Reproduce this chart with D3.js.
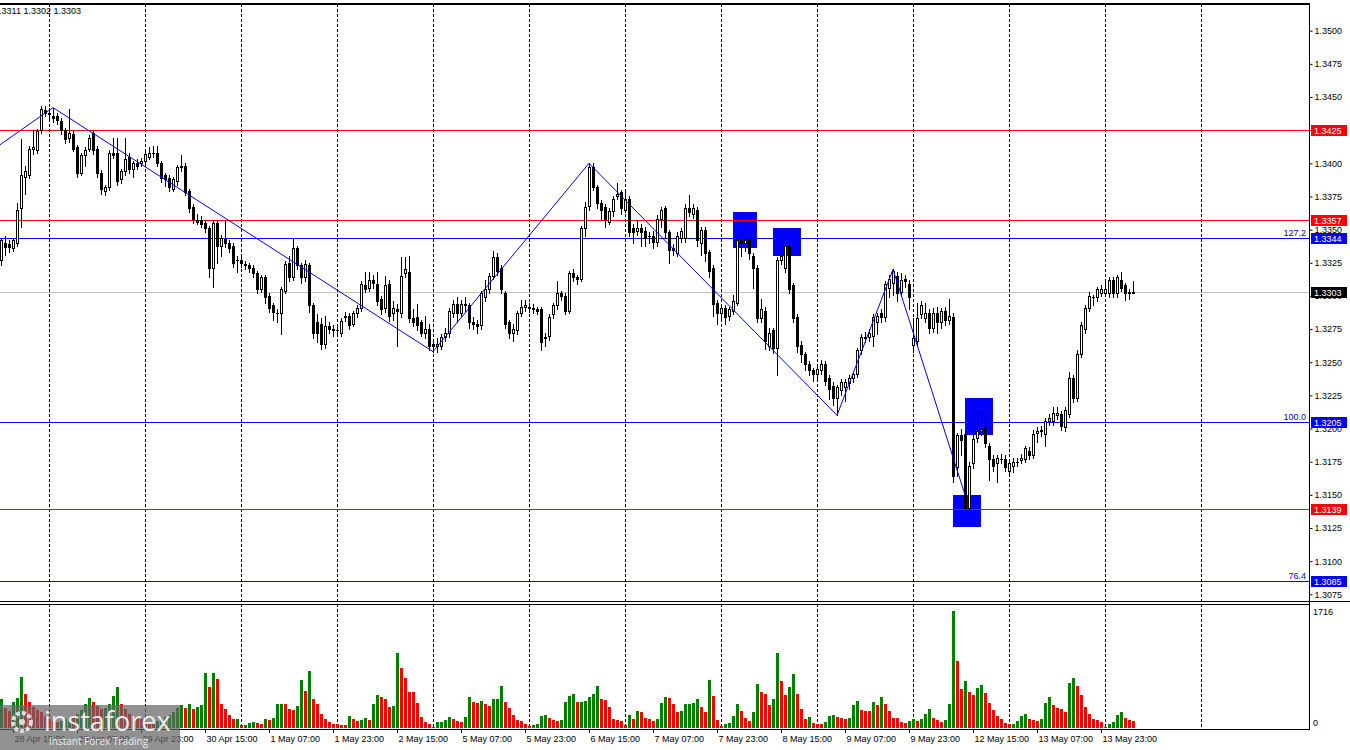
<!DOCTYPE html>
<html>
<head>
<meta charset="utf-8">
<script src="https://cdn.jsdelivr.net/npm/d3@7"></script>
<style>
  body { margin: 0; background: #fff; }
  svg { display: block; font-family: 'Liberation Sans', Arial, sans-serif; }
</style>
</head>
<body>
<svg id="chart" width="1350" height="750"></svg>
<script>
// H1 candles, oldest first
const opens = [
  1.3327,1.3340,1.3339,1.3336,1.3340,1.3366,1.3390,1.3391,1.3411,1.3410,1.3425,1.3440,
  1.3438,1.3436,1.3436,1.3432,1.3425,1.3419,1.3422,1.3412,1.3393,1.3406,1.3411,1.3423,
  1.3411,1.3393,1.3379,1.3382,1.3408,1.3408,1.3388,1.3394,1.3405,1.3396,1.3400,1.3400,
  1.3402,1.3405,1.3408,1.3408,1.3400,1.3391,1.3389,1.3381,1.3387,1.3397,1.3398,1.3379,
  1.3367,1.3357,1.3357,1.3355,1.3351,1.3321,1.3355,1.3338,1.3343,1.3340,1.3338,1.3327,
  1.3327,1.3324,1.3323,1.3321,1.3317,1.3305,1.3314,1.3300,1.3293,1.3287,1.3287,1.3304,
  1.3325,1.3314,1.3336,1.3323,1.3314,1.3323,1.3293,1.3280,1.3279,1.3264,1.3277,1.3275,
  1.3274,1.3272,1.3284,1.3285,1.3279,1.3287,1.3291,1.3308,1.3306,1.3312,1.3309,1.3298,
  1.3291,1.3309,1.3287,1.3290,1.3287,1.3317,1.3318,1.3283,1.3284,1.3280,1.3272,1.3275,
  1.3264,1.3262,1.3262,1.3269,1.3272,1.3287,1.3294,1.3287,1.3294,1.3293,1.3280,1.3279,
  1.3278,1.3299,1.3305,1.3315,1.3329,1.3321,1.3302,1.3280,1.3272,1.3274,1.3287,1.3292,
  1.3292,1.3291,1.3290,1.3290,1.3268,1.3270,1.3286,1.3293,1.3302,1.3300,1.3289,1.3317,
  1.3314,1.3313,1.3351,1.3368,1.3397,1.3382,1.3370,1.3367,1.3356,1.3364,1.3375,1.3378,
  1.3365,1.3373,1.3351,1.3349,1.3351,1.3349,1.3345,1.3345,1.3341,1.3358,1.3366,1.3348,
  1.3336,1.3332,1.3344,1.3344,1.3366,1.3362,1.3365,1.3340,1.3350,1.3333,1.3321,1.3295,
  1.3287,1.3291,1.3285,1.3289,1.3295,1.3342,1.3340,1.3343,1.3330,1.3321,1.3283,1.3289,
  1.3262,1.3274,1.3261,1.3327,1.3321,1.3338,1.3308,1.3284,1.3263,1.3256,1.3249,1.3244,
  1.3241,1.3244,1.3249,1.3238,1.3232,1.3223,1.3229,1.3231,1.3234,1.3238,1.3241,1.3259,
  1.3268,1.3269,1.3270,1.3280,1.3287,1.3284,1.3306,1.3310,1.3315,1.3303,1.3313,1.3309,
  1.3263,1.3266,1.3286,1.3283,1.3287,1.3276,1.3287,1.3280,1.3289,1.3282,1.3284,1.3171,
  1.3195,1.3196,1.3140,1.3174,1.3193,1.3198,1.3201,1.3187,1.3177,1.3174,1.3177,1.3177,
  1.3168,1.3172,1.3175,1.3176,1.3177,1.3183,1.3180,1.3197,1.3198,1.3196,1.3206,1.3206,
  1.3210,1.3211,1.3201,1.3211,1.3238,1.3223,1.3256,1.3275,1.3291,1.3299,1.3299,1.3302,
  1.3302,1.3302,1.3312,1.3302,1.3312,1.3308,1.3303,1.3302
];
const highs = [
  1.3344,1.3345,1.3342,1.3343,1.3370,1.3418,1.3398,1.3413,1.3425,1.3426,1.3443,1.3443,
  1.3442,1.3442,1.3438,1.3434,1.3427,1.3441,1.3424,1.3414,1.3408,1.3412,1.3421,1.3425,
  1.3413,1.3395,1.3384,1.3410,1.3419,1.3419,1.3396,1.3419,1.3408,1.3402,1.3403,1.3404,
  1.3409,1.3412,1.3413,1.3413,1.3402,1.3393,1.3391,1.3390,1.3399,1.3406,1.3400,1.3381,
  1.3369,1.3362,1.3360,1.3357,1.3353,1.3357,1.3357,1.3346,1.3357,1.3342,1.3340,1.3330,
  1.3329,1.3326,1.3325,1.3323,1.3319,1.3316,1.3316,1.3302,1.3295,1.3290,1.3307,1.3326,
  1.3330,1.3344,1.3338,1.3325,1.3327,1.3325,1.3295,1.3286,1.3283,1.3285,1.3280,1.3278,
  1.3277,1.3283,1.3288,1.3287,1.3289,1.3293,1.3311,1.3318,1.3318,1.3316,1.3318,1.3300,
  1.3315,1.3312,1.3296,1.3294,1.3329,1.3329,1.3330,1.3290,1.3294,1.3282,1.3285,1.3279,
  1.3266,1.3268,1.3271,1.3276,1.3291,1.3297,1.3299,1.3297,1.3299,1.3295,1.3284,1.3282,
  1.3304,1.3312,1.3317,1.3334,1.3332,1.3323,1.3304,1.3282,1.3279,1.3289,1.3297,1.3297,
  1.3295,1.3294,1.3292,1.3292,1.3272,1.3286,1.3295,1.3311,1.3304,1.3302,1.3319,1.3320,
  1.3316,1.3353,1.3371,1.3400,1.3400,1.3384,1.3372,1.3369,1.3366,1.3375,1.3385,1.3380,
  1.3379,1.3375,1.3354,1.3357,1.3354,1.3352,1.3348,1.3349,1.3361,1.3367,1.3368,1.3350,
  1.3339,1.3348,1.3351,1.3369,1.3376,1.3369,1.3367,1.3352,1.3352,1.3335,1.3323,1.3297,
  1.3294,1.3293,1.3292,1.3301,1.3347,1.3350,1.3354,1.3345,1.3332,1.3323,1.3298,1.3292,
  1.3276,1.3276,1.3329,1.3336,1.3343,1.3342,1.3310,1.3286,1.3266,1.3258,1.3251,1.3246,
  1.3248,1.3252,1.3251,1.3240,1.3235,1.3233,1.3237,1.3237,1.3240,1.3243,1.3261,1.3271,
  1.3273,1.3275,1.3286,1.3287,1.3290,1.3311,1.3316,1.3320,1.3318,1.3317,1.3316,1.3312,
  1.3283,1.3295,1.3296,1.3295,1.3290,1.3291,1.3292,1.3291,1.3292,1.3298,1.3287,1.3197,
  1.3200,1.3198,1.3175,1.3195,1.3213,1.3213,1.3213,1.3189,1.3180,1.3180,1.3181,1.3180,
  1.3176,1.3178,1.3178,1.3181,1.3187,1.3186,1.3199,1.3201,1.3202,1.3208,1.3211,1.3216,
  1.3216,1.3213,1.3216,1.3243,1.3240,1.3259,1.3280,1.3293,1.3303,1.3301,1.3307,1.3308,
  1.3313,1.3314,1.3314,1.3316,1.3318,1.3310,1.3305,1.3311
];
const lows = [
  1.3323,1.3331,1.3333,1.3334,1.3338,1.3352,1.3377,1.3389,1.3407,1.3408,1.3423,1.3436,
  1.3432,1.3431,1.3430,1.3422,1.3415,1.3416,1.3409,1.3390,1.3391,1.3398,1.3409,1.3407,
  1.3390,1.3377,1.3376,1.3380,1.3404,1.3384,1.3385,1.3391,1.3393,1.3390,1.3396,1.3398,
  1.3400,1.3403,1.3405,1.3398,1.3386,1.3383,1.3379,1.3379,1.3384,1.3394,1.3376,1.3363,
  1.3355,1.3354,1.3352,1.3348,1.3314,1.3307,1.3325,1.3330,1.3337,1.3333,1.3322,1.3318,
  1.3322,1.3320,1.3318,1.3314,1.3302,1.3303,1.3295,1.3288,1.3282,1.3280,1.3271,1.3302,
  1.3311,1.3312,1.3320,1.3310,1.3311,1.3288,1.3268,1.3265,1.3260,1.3261,1.3272,1.3270,
  1.3271,1.3270,1.3281,1.3275,1.3277,1.3284,1.3289,1.3303,1.3304,1.3306,1.3293,1.3286,
  1.3288,1.3281,1.3282,1.3262,1.3284,1.3314,1.3280,1.3277,1.3274,1.3270,1.3268,1.3259,
  1.3258,1.3258,1.3260,1.3266,1.3269,1.3284,1.3280,1.3285,1.3289,1.3276,1.3275,1.3272,
  1.3275,1.3296,1.3302,1.3313,1.3316,1.3302,1.3276,1.3268,1.3266,1.3271,1.3285,1.3289,
  1.3288,1.3287,1.3286,1.3259,1.3262,1.3267,1.3283,1.3290,1.3297,1.3286,1.3287,1.3311,
  1.3309,1.3311,1.3345,1.3365,1.3380,1.3366,1.3357,1.3352,1.3354,1.3360,1.3373,1.3362,
  1.3363,1.3345,1.3340,1.3346,1.3338,1.3338,1.3340,1.3336,1.3338,1.3352,1.3344,1.3325,
  1.3331,1.3330,1.3341,1.3341,1.3360,1.3359,1.3338,1.3331,1.3326,1.3314,1.3285,1.3279,
  1.3283,1.3279,1.3282,1.3286,1.3293,1.3330,1.3334,1.3328,1.3306,1.3280,1.3280,1.3260,
  1.3259,1.3257,1.3240,1.3324,1.3318,1.3302,1.3280,1.3258,1.3250,1.3244,1.3240,1.3236,
  1.3238,1.3241,1.3233,1.3222,1.3218,1.3210,1.3225,1.3221,1.3230,1.3235,1.3239,1.3256,
  1.3265,1.3266,1.3262,1.3271,1.3280,1.3281,1.3299,1.3301,1.3296,1.3300,1.3307,1.3290,
  1.3258,1.3263,1.3283,1.3280,1.3272,1.3273,1.3272,1.3276,1.3278,1.3279,1.3160,1.3164,
  1.3180,1.3139,1.3139,1.3170,1.3190,1.3195,1.3186,1.3161,1.3168,1.3160,1.3174,1.3168,
  1.3166,1.3167,1.3172,1.3174,1.3175,1.3177,1.3178,1.3190,1.3194,1.3187,1.3203,1.3203,
  1.3207,1.3199,1.3198,1.3209,1.3220,1.3221,1.3254,1.3272,1.3289,1.3293,1.3296,1.3300,
  1.3300,1.3299,1.3299,1.3299,1.3304,1.3297,1.3298,1.3302
];
const closes = [
  1.3342,1.3337,1.3337,1.3342,1.3365,1.3391,1.3394,1.3411,1.3412,1.3424,1.3441,1.3438,
  1.3437,1.3434,1.3433,1.3425,1.3418,1.3423,1.3411,1.3393,1.3406,1.3410,1.3419,1.3410,
  1.3393,1.3381,1.3382,1.3408,1.3406,1.3387,1.3394,1.3403,1.3396,1.3400,1.3398,1.3402,
  1.3407,1.3408,1.3408,1.3400,1.3389,1.3388,1.3382,1.3388,1.3397,1.3398,1.3378,1.3366,
  1.3358,1.3356,1.3354,1.3351,1.3321,1.3355,1.3338,1.3344,1.3340,1.3336,1.3325,1.3327,
  1.3325,1.3323,1.3321,1.3317,1.3305,1.3314,1.3299,1.3291,1.3288,1.3287,1.3305,1.3324,
  1.3314,1.3336,1.3323,1.3314,1.3324,1.3293,1.3272,1.3272,1.3264,1.3277,1.3275,1.3274,
  1.3274,1.3281,1.3285,1.3278,1.3287,1.3291,1.3309,1.3305,1.3312,1.3310,1.3296,1.3290,
  1.3308,1.3285,1.3291,1.3289,1.3315,1.3320,1.3283,1.3280,1.3278,1.3272,1.3275,1.3262,
  1.3262,1.3264,1.3269,1.3272,1.3289,1.3294,1.3287,1.3294,1.3293,1.3280,1.3279,1.3277,
  1.3302,1.3305,1.3315,1.3329,1.3319,1.3305,1.3279,1.3272,1.3275,1.3287,1.3292,1.3293,
  1.3291,1.3290,1.3289,1.3265,1.3269,1.3284,1.3293,1.3302,1.3300,1.3289,1.3317,1.3314,
  1.3313,1.3351,1.3367,1.3397,1.3382,1.3370,1.3365,1.3358,1.3364,1.3373,1.3377,1.3366,
  1.3373,1.3348,1.3348,1.3351,1.3348,1.3344,1.3345,1.3341,1.3358,1.3365,1.3348,1.3335,
  1.3335,1.3345,1.3349,1.3366,1.3363,1.3366,1.3342,1.3350,1.3332,1.3319,1.3294,1.3287,
  1.3291,1.3284,1.3290,1.3296,1.3342,1.3340,1.3342,1.3332,1.3321,1.3283,1.3290,1.3266,
  1.3272,1.3261,1.3327,1.3330,1.3338,1.3305,1.3283,1.3262,1.3256,1.3249,1.3244,1.3241,
  1.3245,1.3249,1.3236,1.3230,1.3223,1.3231,1.3235,1.3235,1.3238,1.3241,1.3259,1.3269,
  1.3269,1.3272,1.3284,1.3285,1.3284,1.3309,1.3313,1.3319,1.3302,1.3312,1.3311,1.3299,
  1.3268,1.3283,1.3293,1.3287,1.3276,1.3287,1.3280,1.3289,1.3282,1.3285,1.3164,1.3195,
  1.3191,1.3140,1.3172,1.3192,1.3198,1.3200,1.3189,1.3177,1.3172,1.3178,1.3177,1.3171,
  1.3174,1.3175,1.3175,1.3178,1.3185,1.3180,1.3196,1.3198,1.3199,1.3206,1.3208,1.3212,
  1.3212,1.3202,1.3214,1.3238,1.3223,1.3256,1.3278,1.3291,1.3300,1.3299,1.3305,1.3305,
  1.3305,1.3312,1.3302,1.3314,1.3306,1.3302,1.3302,1.3303
];
// tick volumes
const volumes = [
  430,300,250,380,440,750,495,380,310,260,230,180,
  130,110,90,100,130,150,140,200,260,350,440,380,
  330,280,300,350,470,600,350,285,210,180,150,130,
  110,90,80,100,130,160,190,230,300,333,300,357,
  284,308,333,807,601,807,714,347,279,186,127,135,
  39,45,73,83,80,54,132,112,147,347,350,345,
  284,259,318,699,543,831,430,347,210,127,88,64,
  54,50,48,171,137,103,112,152,112,347,479,455,
  420,308,318,1100,875,729,528,525,367,161,88,64,
  15,88,90,112,161,127,98,83,161,455,381,367,
  396,352,323,421,425,611,381,293,186,112,110,54,
  29,39,54,171,186,147,112,103,112,381,465,494,
  381,385,396,455,494,611,421,406,308,132,112,108,
  39,186,132,245,230,152,127,103,132,367,450,435,
  347,235,249,347,350,367,421,308,235,699,465,112,
  29,54,73,171,357,245,147,103,230,641,528,494,
  333,421,1100,685,479,597,787,494,279,127,156,73,
  64,54,83,171,186,166,152,132,142,333,396,259,
  255,245,377,333,450,347,245,152,140,83,80,98,
  127,98,127,210,274,142,112,83,112,347,1716,978,
  567,685,523,489,582,626,509,362,259,171,127,68,
  54,60,98,171,200,132,112,98,127,362,450,333,
  289,274,230,655,729,611,479,303,200,132,112,83,
  15,54,83,186,230,142,112,110
];

const priceTicks = [1.3075,1.3100,1.3125,1.3150,1.3175,1.3200,1.3225,1.3250,1.3275,
  1.3300,1.3325,1.3350,1.3375,1.3400,1.3425,1.3450,1.3475,1.3500];
const timeLabelIdx = [3,19,35,51,67,83,99,115,131,147,163,179,195,211,227,243,259,275];
const timeLabels = ["28 Apr 15:00","29 Apr 07:00","29 Apr 23:00","30 Apr 15:00","1 May 07:00",
  "1 May 23:00","2 May 15:00","5 May 07:00","5 May 23:00","6 May 15:00","7 May 07:00",
  "7 May 23:00","8 May 15:00","9 May 07:00","9 May 23:00","12 May 15:00","13 May 07:00","13 May 23:00"];

const redLevels = [1.3425, 1.3357, 1.3139];
const fiboLevels = [1.3344, 1.3205, 1.3085];
const fiboNames = ["127.2", "100.0", "76.4"];
const lastPrice = 1.3303;

// zigzag vertices: candle index, price
const zigIdx = [-0.25, 13, 108, 147, 209, 223, 241];
const zigPrice = [1.3414, 1.3442, 1.3258, 1.3400, 1.3210, 1.3320, 1.3150];

// blue boxes: candle index span, price span
const boxFrom = [183, 193, 241, 238];
const boxTo = [189, 200, 248, 245];
const boxTop = [1.3363, 1.3351, 1.3223, 1.3150];
const boxBottom = [1.3336, 1.3330, 1.3195, 1.3126];

const n = closes.length;
const axisX = 1309;

const svg = d3.select("#chart");
svg.append("rect").attr("width", 1350).attr("height", 750).attr("fill", "#fff");

const x = d3.scaleLinear().domain([0, n - 1]).range([1, 1133]);
const y = d3.scaleLinear().domain([1.3075, 1.35]).range([594.3, 30.7]);
const yv = d3.scaleLinear().domain([0, 1716]).range([728, 611]);
const py = v => Math.round(y(v));

// blue boxes behind everything
svg.append("g").selectAll("rect")
  .data(boxFrom.map((d, i) => i))
  .enter().append("rect")
  .attr("x", i => x(boxFrom[i]))
  .attr("y", i => py(boxTop[i]))
  .attr("width", i => x(boxTo[i]) - x(boxFrom[i]))
  .attr("height", i => py(boxBottom[i]) - py(boxTop[i]))
  .attr("fill", "#0000ff");

// vertical dashed grid
svg.append("g").selectAll("line")
  .data(d3.range(12, 301, 24))
  .enter().append("line")
  .attr("x1", d => x(d) + 0.5).attr("x2", d => x(d) + 0.5)
  .attr("y1", 4).attr("y2", 729)
  .attr("stroke", "#000").attr("stroke-dasharray", "3,2");

// horizontal levels
const lv = svg.append("g").attr("shape-rendering", "crispEdges");
lv.append("line")
  .attr("x1", 0).attr("x2", axisX)
  .attr("y1", py(lastPrice) + 0.5).attr("y2", py(lastPrice) + 0.5)
  .attr("stroke", "#c0c0c0");
redLevels.forEach(v => {
  lv.append("line").attr("x1", 0).attr("x2", axisX)
    .attr("y1", py(v) + 0.5).attr("y2", py(v) + 0.5)
    .attr("stroke", "#ff0000").attr("stroke-width", 1.3);
});
fiboLevels.forEach((v, i) => {
  lv.append("line").attr("x1", 0).attr("x2", axisX)
    .attr("y1", py(v) + 0.5).attr("y2", py(v) + 0.5)
    .attr("stroke", "#0000ff");
  svg.append("text").attr("x", 1306).attr("y", py(v) - 2)
    .attr("text-anchor", "end").attr("font-size", 9).attr("fill", "#0000ff")
    .text(fiboNames[i]);
});

// candles
const cg = svg.append("g").attr("shape-rendering", "crispEdges");
d3.range(n).forEach(i => {
  const cx = Math.round(x(i));
  const o = opens[i], c = closes[i];
  const hi = Math.max(highs[i], o, c), lo = Math.min(lows[i], o, c);
  cg.append("rect").attr("x", cx).attr("width", 1)
    .attr("y", py(hi)).attr("height", py(lo) - py(hi) + 1).attr("fill", "#000");
  const top = py(Math.max(o, c)), bot = py(Math.min(o, c));
  if (bot - top < 1) {
    cg.append("rect").attr("x", cx - 1).attr("width", 3).attr("y", top).attr("height", 1).attr("fill", "#000");
  } else if (c < o) {
    cg.append("rect").attr("x", cx - 1).attr("width", 3).attr("y", top).attr("height", bot - top + 1).attr("fill", "#000");
  } else {
    cg.append("rect").attr("x", cx - 0.5).attr("width", 2).attr("y", top + 0.5).attr("height", bot - top)
      .attr("fill", "#fff").attr("stroke", "#000").attr("stroke-width", 1);
  }
});

// zigzag
svg.append("path")
  .datum(zigIdx.map((d, i) => [x(d), y(zigPrice[i])]))
  .attr("d", d3.line())
  .attr("fill", "none").attr("stroke", "#0000ff").attr("stroke-width", 1);

// volumes: green when above previous bar, red otherwise
svg.append("g").attr("shape-rendering", "crispEdges").selectAll("rect")
  .data(volumes)
  .enter().append("rect")
  .attr("x", (d, i) => Math.round(x(i)) - 1)
  .attr("width", 3)
  .attr("y", d => Math.round(yv(d)))
  .attr("height", d => 728 - Math.round(yv(d)))
  .attr("fill", (d, i) => (i === 0 || d > volumes[i - 1]) ? "#008000" : "#ff0000");

// frame
const fr = svg.append("g").attr("stroke", "#000").attr("shape-rendering", "crispEdges");
fr.append("line").attr("x1", 0).attr("x2", axisX).attr("y1", 3.5).attr("y2", 3.5).attr("stroke-width", 2);
fr.append("line").attr("x1", axisX + 0.5).attr("x2", axisX + 0.5).attr("y1", 3).attr("y2", 730);
fr.append("line").attr("x1", 0).attr("x2", 1350).attr("y1", 601.5).attr("y2", 601.5);
fr.append("line").attr("x1", 0).attr("x2", axisX).attr("y1", 604.5).attr("y2", 604.5);
fr.append("line").attr("x1", 0).attr("x2", axisX + 1).attr("y1", 729.5).attr("y2", 729.5);

// price axis
const yAxis = d3.axisRight(y).tickValues(priceTicks).tickFormat(d3.format(".4f")).tickSize(3).tickPadding(2);
const ya = svg.append("g").attr("transform", `translate(${axisX + 0.5},0)`).call(yAxis);
ya.select(".domain").remove();
ya.selectAll("text").attr("font-size", 9).attr("font-family", "'Liberation Sans', Arial, sans-serif").attr("fill", "#000");

// coloured price tags
const tags = [
  [redLevels[0], "#ff0000"], [redLevels[1], "#ff0000"], [fiboLevels[0], "#0000ff"],
  [lastPrice, "#000000"], [fiboLevels[1], "#0000ff"], [redLevels[2], "#ff0000"], [fiboLevels[2], "#0000ff"]
];
tags.forEach(([v, col]) => {
  svg.append("rect").attr("x", 1311).attr("y", py(v) - 5).attr("width", 36).attr("height", 11).attr("fill", col);
  svg.append("text").attr("x", 1314).attr("y", py(v) + 3.5).attr("font-size", 9).attr("fill", "#fff")
    .text(d3.format(".4f")(v));
});

// volume axis labels
svg.append("text").attr("x", 1313).attr("y", 615).attr("font-size", 9).text("1716");
svg.append("text").attr("x", 1313).attr("y", 726).attr("font-size", 9).text("0");

// time axis
const tg = svg.append("g");
timeLabelIdx.forEach((d, k) => {
  const tx = Math.round(x(d)) + 0.5;
  tg.append("line").attr("x1", tx).attr("x2", tx).attr("y1", 730).attr("y2", 733).attr("stroke", "#000");
  tg.append("text").attr("x", tx + 1).attr("y", 742).attr("font-size", 9).text(timeLabels[k]);
});

// header with last bar values (cut at the left edge)
svg.append("text").attr("x", 81).attr("y", 14).attr("text-anchor", "end").attr("font-size", 9)
  .text("GBPUSD,H1  1.3302 1.3311 1.3302 1.3303");

// watermark logo, semi-transparent over the volume bars
const logo = svg.append("g");
logo.append("rect").attr("x", 0).attr("y", 705).attr("width", 180).attr("height", 45)
  .attr("fill", "#666").attr("opacity", 0.72);
logo.append("circle").attr("cx", 22).attr("cy", 722).attr("r", 9)
  .attr("fill", "none").attr("stroke", "#dcdcdc").attr("stroke-width", 4).attr("stroke-dasharray", "4,2");
logo.append("circle").attr("cx", 22).attr("cy", 722).attr("r", 3).attr("fill", "#dcdcdc");
logo.append("text").attr("x", 44).attr("y", 731).attr("font-size", 27)
  .attr("font-family", "'Open Sans', 'Liberation Sans', sans-serif").attr("fill", "#ececec")
  .text("instaforex");
logo.append("text").attr("x", 49).attr("y", 745).attr("font-size", 10)
  .attr("font-family", "'Open Sans', 'Liberation Sans', sans-serif").attr("fill", "#ececec")
  .text("Instant Forex Trading");
</script>
</body>
</html>
